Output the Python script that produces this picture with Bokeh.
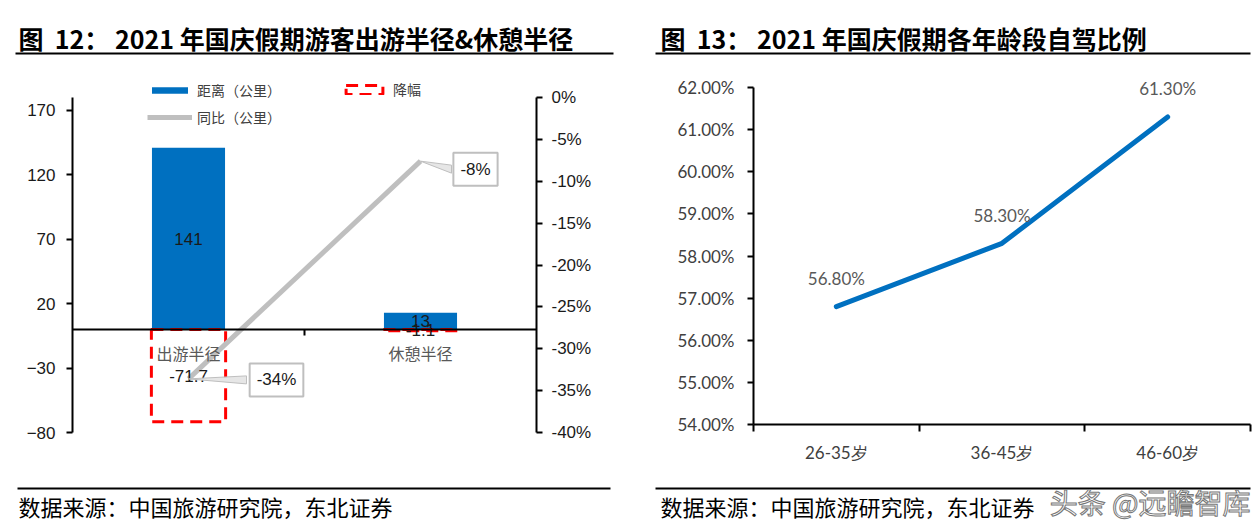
from bokeh.plotting import figure
from bokeh.layouts import row, column
from bokeh.models import (Range1d, LinearAxis, FixedTicker, PrintfTickFormatter,
                          Legend, LegendItem, Span, ColumnDataSource)
from bokeh.core.properties import value
from bokeh.embed import file_html
from bokeh.resources import INLINE

# ---------------- data ----------------
radius_cats = ["出游半径", "休憩半径"]
distance_km = [141, 13]
decline_km = [-71.7, -1.1]
yoy_pct = [-33.6, -7.6]
yoy_labels = ["-34%", "-8%"]
left_ticks = [-80, -30, 20, 70, 120, 170]
pct_ticks = [0, -5, -10, -15, -20, -25, -30, -35, -40]

age_cats = ["26-35岁", "36-45岁", "46-60岁"]
selfdrive_pct = [56.8, 58.3, 61.3]
selfdrive_labels = ["56.80%", "58.30%", "61.30%"]
selfdrive_ticks = [54, 55, 56, 57, 58, 59, 60, 61, 62]

title_left = "图\u00a0\u00a012：\u00a02021 年国庆假期游客出游半径&休憩半径"
title_right = "图\u00a0\u00a013：\u00a02021 年国庆假期各年龄段自驾比例"
source_note = "数据来源：中国旅游研究院，东北证券"
watermark = "头条 @远瞻智库"

CJK = "Noto Sans CJK SC"
BLUE = "#0070C0"
GRAY = "#BFBFBF"


def strip(width, height, text, tx, ty, ly, lx0, lx1, size, bold):
    f = figure(width=width, height=height, x_range=Range1d(0, width),
               y_range=Range1d(height, 0), toolbar_location=None,
               output_backend="svg", min_border=0, frame_align=False,
               x_axis_location=None, y_axis_location=None)
    f.outline_line_color = None
    f.grid.visible = False
    f.segment(x0=[lx0], y0=[ly], x1=[lx1], y1=[ly], line_color="black", line_width=2)
    f.text(x=[tx], y=[ty], text=[text], text_font=value(CJK), text_font_size=size,
           text_font_style="bold" if bold else "normal", text_baseline="middle",
           text_align="left", text_color="black")
    return f


# ---------------- left chart ----------------
LW, LH = 640, 420
fl_l, fl_r, fl_t, fl_b = 72, 536, 10, 410
px_lo, px_hi = 372, 37          # -80 and 180 positions (local px)
v_lo, v_hi = -80, 180
k = (px_lo - px_hi) / (v_hi - v_lo)
y_start = v_lo - (fl_b - px_lo) / k
y_end = v_hi + (px_hi - fl_t) / k
p_lo, p_hi = -40, 0
to_pct = lambda v: p_lo + (v - v_lo) / (v_hi - v_lo) * (p_hi - p_lo)

pl = figure(width=LW, height=LH, x_range=Range1d(0, len(radius_cats)),
            y_range=Range1d(y_start, y_end), toolbar_location=None,
            output_backend="svg", x_axis_location=None, frame_align=False,
            min_border_left=fl_l, min_border_right=LW - fl_r,
            min_border_top=fl_t, min_border_bottom=LH - fl_b)
pl.outline_line_color = None
pl.grid.visible = False
pl.extra_y_ranges = {"pct": Range1d(to_pct(y_start), to_pct(y_end))}

xs = [i + 0.5 for i in range(len(radius_cats))]
src = ColumnDataSource(dict(x=xs, dist=distance_km, dec=decline_km, yoy=yoy_pct,
                            cat=radius_cats,
                            dist_mid=[v / 2 for v in distance_km],
                            dec_mid=[v / 2 for v in decline_km],
                            dist_lbl=[f"{v:g}" for v in distance_km],
                            dec_lbl=[f"{v:g}" for v in decline_km],
                            yoy_lbl=yoy_labels))

bars = pl.vbar(x="x", top="dist", width=0.315, source=src, fill_color=BLUE, line_color=None)
dec = pl.vbar(x="x", top="dec", bottom=0, width=0.32, source=src, fill_color=None,
              line_color="#FF0000", line_width=3, line_dash="12 7")
yoy_line = pl.line(x="x", y="yoy", source=src, y_range_name="pct",
                   line_color=GRAY, line_width=5)

pl.add_layout(Span(location=0, dimension="width", line_color="black", line_width=2))
bx = list(range(1, len(radius_cats)))
pl.segment(x0=bx, y0=[0] * len(bx), x1=bx, y1=[-6 / k] * len(bx),
           line_color="black", line_width=2)

pl.text(x="x", y=0, text="cat", source=src, y_offset=24, text_align="center",
        text_baseline="middle", text_font=value(CJK), text_font_size="16px",
        text_color="#595959")
pl.text(x="x", y="dist_mid", text="dist_lbl", source=src, text_align="center",
        text_baseline="middle", text_font=value("Liberation Sans"),
        text_font_size="17px", text_color="#1a1a1a")
pl.text(x="x", y="dec_mid", text="dec_lbl", source=src, text_align="center",
        text_baseline="middle", text_font=value("Liberation Sans"),
        text_font_size="17px", text_color="#1a1a1a")

# callouts for the YoY line
px_per_x = (fl_r - fl_l) / len(radius_cats)
px_per_pct = k * (v_hi - v_lo) / (p_hi - p_lo)
co_dx = [88, 55]
co_dy = [1, 8]
co_hw = [30, 24]
lx, ly = [], []
for xi, yi, dx, dy, hw in zip(xs, yoy_pct, co_dx, co_dy, co_hw):
    bxe = xi + (dx - hw) / px_per_x
    byc = yi - dy / px_per_pct
    lx.append([xi, bxe, bxe])
    ly.append([yi, byc + 4 / px_per_pct, byc - 4 / px_per_pct])
pl.patches(xs=lx, ys=ly, y_range_name="pct", fill_color="#E6E6E6",
           line_color=GRAY, line_width=1)
csrc = ColumnDataSource(dict(x=xs, y=yoy_pct, t=yoy_labels, dx=co_dx, dy=co_dy))
pl.text(x="x", y="y", text="t", source=csrc, y_range_name="pct", x_offset="dx",
        y_offset="dy", text_align="center", text_baseline="middle",
        text_font=value("Liberation Sans"), text_font_size="17px",
        text_color="#1a1a1a", background_fill_color="white",
        border_line_color=GRAY, border_line_width=2, padding=7)

pl.yaxis.bounds = (v_lo, v_hi)
pl.yaxis.ticker = FixedTicker(ticks=left_ticks)
ra = LinearAxis(y_range_name="pct", bounds=(p_lo, p_hi),
                ticker=FixedTicker(ticks=pct_ticks),
                formatter=PrintfTickFormatter(format="%d%%"))
pl.add_layout(ra, "right")
for ax in (pl.yaxis[0], ra):
    ax.axis_line_width = 2
    ax.axis_line_color = "black"
    ax.major_tick_line_width = 2
    ax.major_tick_out = 6
    ax.major_tick_in = 0
    ax.minor_tick_out = 0
    ax.minor_tick_in = 0
    ax.major_label_text_font = "Liberation Sans"
    ax.major_label_text_font_size = "17px"
    ax.major_label_text_color = "#1a1a1a"
pl.yaxis[0].major_label_standoff = 11
ra.major_label_standoff = 9

leg1 = Legend(items=[LegendItem(label="距离（公里）", renderers=[bars]),
                     LegendItem(label="同比（公里）", renderers=[yoy_line])],
              location=(75, 343), glyph_width=45, glyph_height=8, label_height=20,
              spacing=7, label_standoff=5)
leg2 = Legend(items=[LegendItem(label="降幅", renderers=[dec])],
              location=(269, 371), glyph_width=46, glyph_height=11, label_height=20,
              label_standoff=6)
for lg in (leg1, leg2):
    lg.padding = 0
    lg.margin = 0
    lg.border_line_color = None
    lg.background_fill_alpha = 0
    lg.label_text_font = CJK
    lg.label_text_font_size = "14px"
    lg.label_text_color = "#404040"
    pl.add_layout(lg)

# ---------------- right chart ----------------
RW, RH = 619, 420
fr_l, fr_r, fr_t, fr_b = 113, 610, 10, 364
r_lo_px, r_hi_px = 364, 27
kr = (r_lo_px - r_hi_px) / (selfdrive_ticks[-1] - selfdrive_ticks[0])
yr_end = selfdrive_ticks[-1] + (r_hi_px - fr_t) / kr

pr = figure(width=RW, height=RH, x_range=Range1d(0, len(age_cats)),
            y_range=Range1d(selfdrive_ticks[0], yr_end), toolbar_location=None,
            output_backend="svg", frame_align=False,
            min_border_left=fr_l, min_border_right=RW - fr_r,
            min_border_top=fr_t, min_border_bottom=RH - fr_b)
pr.outline_line_color = None
pr.grid.visible = False

axs = [i + 0.5 for i in range(len(age_cats))]
rsrc = ColumnDataSource(dict(x=axs, y=selfdrive_pct, t=selfdrive_labels))
pr.line(x="x", y="y", source=rsrc, line_color=BLUE, line_width=5, line_cap="round")
pr.text(x="x", y="y", text="t", source=rsrc, y_offset=-28, text_align="center",
        text_baseline="middle", text_font=value("Lato"), text_font_size="17px",
        text_color="#595959")

pr.yaxis.bounds = (selfdrive_ticks[0], selfdrive_ticks[-1])
pr.yaxis.ticker = FixedTicker(ticks=selfdrive_ticks)
pr.yaxis.formatter = PrintfTickFormatter(format="%.2f%%")
pr.yaxis.major_label_standoff = 13
pr.xaxis.ticker = FixedTicker(ticks=axs, minor_ticks=list(range(len(age_cats) + 1)))
pr.xaxis.major_label_overrides = {x: c for x, c in zip(axs, age_cats)}
pr.xaxis.major_tick_out = 0
pr.xaxis.major_tick_in = 0
pr.xaxis.minor_tick_out = 7
pr.xaxis.minor_tick_in = 0
pr.xaxis.minor_tick_line_width = 2
pr.xaxis.minor_tick_line_color = "black"
pr.xaxis.major_label_standoff = 10
for ax in (pr.xaxis[0], pr.yaxis[0]):
    ax.axis_line_width = 2
    ax.axis_line_color = "black"
    ax.major_label_text_font = "Lato"
    ax.major_label_text_font_size = "17px"
    ax.major_label_text_color = "#404040"
pr.yaxis.major_tick_line_width = 2
pr.yaxis.major_tick_out = 6
pr.yaxis.major_tick_in = 0
pr.yaxis.minor_tick_out = 0
pr.yaxis.minor_tick_in = 0

# ---------------- titles & footers ----------------
tl = strip(640, 60, title_left, 18, 37, 53, 15, 613, "25px", True)
tr = strip(619, 60, title_right, 20, 37, 53, 15, 610, "25px", True)
fl = strip(640, 51, source_note, 18, 25, 8, 17, 610, "22px", False)
fr = strip(619, 51, source_note, 20, 25, 8, 15, 610, "22px", False)
fr.text(x=[610], y=[21], text=[watermark], text_font=value(CJK), text_font_size="28px",
        text_align="right", text_baseline="middle", text_color="white",
        text_outline_color="#777777")

layout = row(column(tl, pl, fl), column(tr, pr, fr))
open("out.html", "w").write(file_html(layout, INLINE))
